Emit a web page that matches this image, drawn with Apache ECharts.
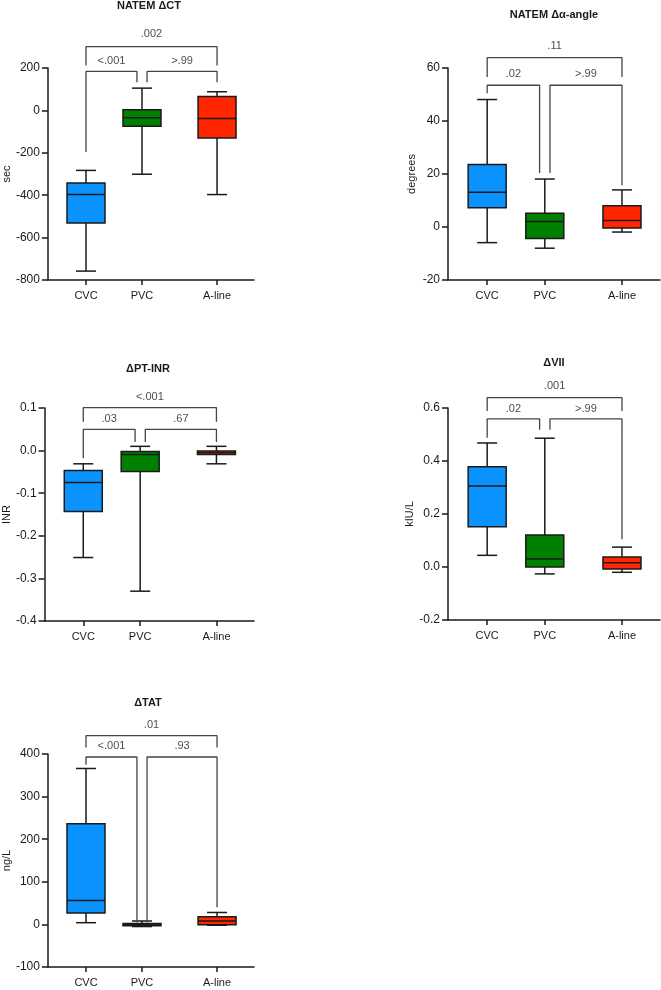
<!DOCTYPE html>
<html>
<head>
<meta charset="utf-8">
<title>Box plots</title>
<script src="https://cdn.jsdelivr.net/npm/echarts@6/dist/echarts.min.js"></script>
<style>
  html, body { margin: 0; padding: 0; background: #fff; }
  #chart { width: 661px; height: 990px; }
</style>
</head>
<body>
<div id="chart"></div>
<script>
var groups = ['CVC', 'PVC', 'A-line'];
var groupX = [1, 2, 3.34];
var groupColors = ['#0A93FF', '#008000', '#FF2600'];

var titles = ['NATEM \u0394CT', 'NATEM \u0394\u03b1-angle', '\u0394PT-INR', '\u0394VII', '\u0394TAT'];
var yNames = ['sec', 'degrees', 'INR', 'kIU/L', 'ng/L'];
// min, max, interval, decimals
var yMin = [-800, -20, -0.4, -0.2, -100];
var yMax = [200, 60, 0.1, 0.6, 400];
var yStep = [200, 20, 0.1, 0.2, 100];
var yDigits = [0, 0, 1, 1, 0];

// boxes: [min, Q1, median, Q3, max] for CVC, PVC, A-line
var ctBoxes = [[-758, -531, -397, -342, -283], [-301, -75, -35, 3, 105], [-397, -130, -38, 66, 88]];
var alphaBoxes = [[-5.9, 7.3, 13.1, 23.6, 48.1], [-8, -4.3, 2.1, 5.2, 18.1], [-1.9, -0.4, 2.5, 8, 14]];
var inrBoxes = [[-0.251, -0.143, -0.075, -0.047, -0.031], [-0.330, -0.049, -0.009, -0.002, 0.010], [-0.031, -0.009, -0.005, -0.001, 0.010]];
var viiBoxes = [[0.044, 0.152, 0.306, 0.378, 0.468], [-0.026, 0.0, 0.030, 0.121, 0.486], [-0.020, -0.008, 0.016, 0.038, 0.075]];
var tatBoxes = [[4, 27, 56, 236, 366], [-5, -3, -1, 2, 8], [-2, -1, 8, 18, 28]];
var allBoxes = [ctBoxes, alphaBoxes, inrBoxes, viiBoxes, tatBoxes];

// brackets: [xLeft, xRight, yTop, yLeftEnd, yRightEnd]
var ctBrackets = [[1, 3.34, 301, 212, 212], [1, 1.91, 184, -196, 133], [2.09, 3.34, 184, 133, 133]];
var alphaBrackets = [[1, 3.34, 63.9, 56.6, 56.6], [1, 1.91, 53.5, 50.5, 20.4], [2.09, 3.34, 53.5, 20.4, 15.8]];
var inrBrackets = [[1, 3.34, 0.101, 0.068, 0.068], [1, 1.91, 0.050, -0.018, 0.020], [2.09, 3.34, 0.050, 0.020, 0.020]];
var viiBrackets = [[1, 3.34, 0.639, 0.589, 0.589], [1, 1.91, 0.559, 0.488, 0.518], [2.09, 3.34, 0.559, 0.518, 0.105]];
var tatBrackets = [[1, 3.34, 443, 415, 415], [1, 1.91, 393, 375, 4.7], [2.09, 3.34, 393, 4.7, 40]];
var allBrackets = [ctBrackets, alphaBrackets, inrBrackets, viiBrackets, tatBrackets];

// p values: [overall, left pair, right pair] and their label heights
var pTexts = [['.002', '<.001', '>.99'], ['.11', '.02', '>.99'], ['<.001', '.03', '.67'], ['.001', '.02', '>.99'], ['.01', '<.001', '.93']];
var pHeights = [[361, 231, 231], [68.5, 57.6, 57.6], [0.127, 0.075, 0.075], [0.682, 0.598, 0.598], [468, 420, 420]];

var gridPos = [
    {left: 42, top: 68, width: 212, height: 212},
    {left: 448, top: 68, width: 212, height: 212},
    {left: 42, top: 408, width: 212, height: 213},
    {left: 448, top: 408, width: 212, height: 212},
    {left: 42, top: 754, width: 212, height: 213}
];
var titlePos = [[149, 0], [554, 9], [148, 363], [554, 357], [148, 697]];

var font = 'Liberation Sans, Arial, Helvetica, sans-serif';
var ink = '#1a1a1a';

function renderBox(params, api) {
    var x = api.value(0);
    var lo = api.coord([x, api.value(1)]);
    var q1 = api.coord([x, api.value(2)]);
    var med = api.coord([x, api.value(3)]);
    var q3 = api.coord([x, api.value(4)]);
    var hi = api.coord([x, api.value(5)]);
    var cx = lo[0], half = 19, cap = 10;
    var st = {stroke: ink, lineWidth: 1.5};
    return {
        type: 'group',
        children: [
            {type: 'line', shape: {x1: cx, y1: hi[1], x2: cx, y2: lo[1]}, style: st},
            {type: 'line', shape: {x1: cx - cap, y1: hi[1], x2: cx + cap, y2: hi[1]}, style: st},
            {type: 'line', shape: {x1: cx - cap, y1: lo[1], x2: cx + cap, y2: lo[1]}, style: st},
            {type: 'rect', shape: {x: cx - half, y: q3[1], width: half * 2, height: q1[1] - q3[1]},
                style: {fill: groupColors[params.dataIndex], stroke: ink, lineWidth: 1.5}},
            {type: 'line', shape: {x1: cx - half, y1: med[1], x2: cx + half, y2: med[1]}, style: st}
        ]
    };
}

var option = {
    animation: false,
    backgroundColor: '#fff',
    title: [], grid: [], xAxis: [], yAxis: [], series: []
};

for (var i = 0; i < 5; i++) {
    option.title.push({
        text: titles[i], left: titlePos[i][0], top: titlePos[i][1], textAlign: 'center', padding: 0,
        textStyle: {fontFamily: font, fontSize: 11, fontWeight: 'bold', color: ink}
    });
    option.grid.push(gridPos[i]);
    option.xAxis.push({
        type: 'value', gridIndex: i, min: 0.32, max: 4.0,
        axisLine: {onZero: false, lineStyle: {color: ink, width: 1.5}},
        axisTick: {customValues: groupX, length: 5, lineStyle: {color: ink, width: 1.5}},
        axisLabel: {
            customValues: groupX, margin: 10, fontFamily: font, fontSize: 11, color: ink,
            formatter: function (v) {
                for (var k = 0; k < groupX.length; k++) if (Math.abs(groupX[k] - v) < 1e-6) return groups[k];
                return '';
            }
        },
        splitLine: {show: false}
    });
    (function (d) {
        option.yAxis.push({
            type: 'value', gridIndex: i, min: yMin[i], max: yMax[i], interval: yStep[i],
            name: yNames[i], nameLocation: 'middle', nameGap: 31,
            nameTextStyle: {fontFamily: font, fontSize: 11, color: ink},
            axisLine: {show: true, onZero: false, lineStyle: {color: ink, width: 1.5}},
            axisTick: {show: true, length: 6, lineStyle: {color: ink, width: 1.5}},
            axisLabel: {margin: 8, fontFamily: font, fontSize: 12, color: ink,
                formatter: function (v) { return v.toFixed(d); }},
            splitLine: {show: false}
        });
    })(yDigits[i]);

    var boxData = allBoxes[i].map(function (b, k) { return [groupX[k]].concat(b); });
    option.series.push({
        type: 'custom', xAxisIndex: i, yAxisIndex: i, renderItem: renderBox,
        data: boxData, encode: {x: 0, y: [1, 2, 3, 4, 5]}, silent: true
    });

    allBrackets[i].forEach(function (br) {
        option.series.push({
            type: 'line', xAxisIndex: i, yAxisIndex: i, symbol: 'none', clip: false, silent: true,
            lineStyle: {color: '#444', width: 1.3},
            data: [[br[0], br[3]], [br[0], br[2]], [br[1], br[2]], [br[1], br[4]]]
        });
    });

    var labelData = allBrackets[i].map(function (br, k) {
        return {value: [(br[0] + br[1]) / 2, pHeights[i][k]], name: pTexts[i][k]};
    });
    option.series.push({
        type: 'scatter', xAxisIndex: i, yAxisIndex: i, symbolSize: 0, clip: false, silent: true,
        label: {show: true, position: 'inside', formatter: '{b}', fontFamily: font, fontSize: 11, color: ink},
        data: labelData
    });
}

var chart = echarts.init(document.getElementById('chart'), null, {renderer: 'canvas'});
chart.setOption(option);
window.onresize = function () { chart.resize(); };
</script>
</body>
</html>
